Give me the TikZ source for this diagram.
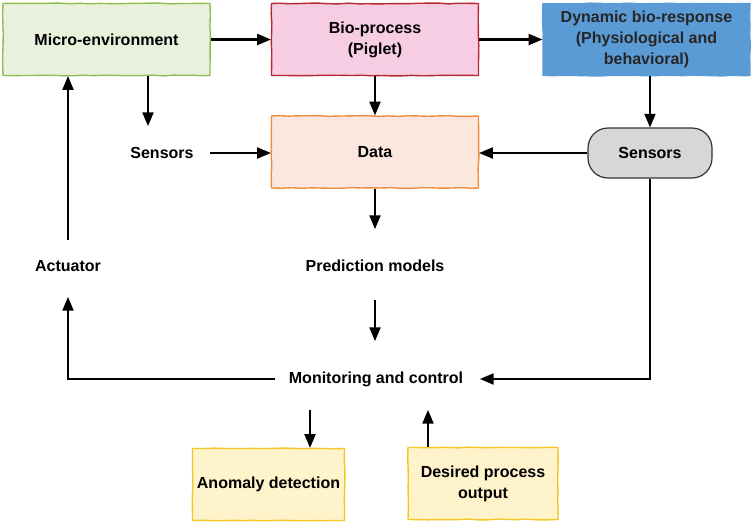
\documentclass[tikz,border=0pt]{standalone}
\usepackage{fontspec}
\setmainfont{Liberation Sans}
\usepackage{tikz}
\usetikzlibrary{shapes,arrows,positioning,calc,decorations.pathmorphing}
\definecolor{envgreen}{RGB}{141,191,82}
\definecolor{envfill}{RGB}{233,241,220}
\definecolor{bioline}{RGB}{181,40,48}
\definecolor{biofill}{RGB}{247,205,227}
\definecolor{dynblue}{RGB}{91,155,213}
\definecolor{dataline}{RGB}{236,140,60}
\definecolor{datafill}{RGB}{251,231,221}
\definecolor{sensfill}{RGB}{217,214,218}
\definecolor{outline}{RGB}{242,198,35}
\definecolor{outfill}{RGB}{255,243,204}

\begin{document}
\begin{tikzpicture}[x=1pt,y=-1pt,
    font=\fontsize{16}{21}\selectfont\bfseries,
    box/.style={line width=1.4pt, minimum width=207pt, minimum height=72pt,
                align=center, inner sep=2pt,
                decorate, decoration={random steps,segment length=10pt,amplitude=0.4pt}},
    outbox/.style={box, draw=outline, fill=outfill, minimum width=152pt},
    label/.style={inner sep=3pt},
    arr/.style={-triangle 45, line width=2.2pt}]
    \useasboundingbox (0,0) rectangle (752,523);

    % top row
    \node[box, draw=envgreen, fill=envfill] (micro) at (106.5,39.5) {Micro-environment};
    \node[box, draw=bioline, fill=biofill] (bio) at (375,39.5) {Bio-process\\(Piglet)};
    \node[box, draw=dynblue, fill=dynblue, text=black!85] (dyn) at (646.5,39.5)
        {Dynamic bio-response\\(Physiological and\\behavioral)};

    % data row
    \node[box, draw=dataline, fill=datafill] (data) at (375,152) {Data};
    \node[draw=black!80, fill=sensfill, line width=1.2pt, rounded corners=20pt,
          minimum width=124pt, minimum height=50pt] (sensR) at (650,153) {Sensors};
    \node[label] (sensL) at (162,153) {Sensors};

    % middle labels
    \node[label] (act) at (68,266) {Actuator};
    \node[label] (pred) at (375,266) {Prediction models};
    \node[label] (mon) at (376,379) {Monitoring and control};

    % outputs
    \node[outbox] (anom) at (268.5,484.5) {Anomaly detection};
    \node[outbox, minimum width=150pt] (want) at (483,483.5) {Desired process\\output};

    % free ends
    \coordinate (senstop) at (148,126);
    \coordinate (predtop) at (375,229);
    \coordinate (predbot) at (375,300);
    \coordinate (montop) at (375,341);
    \coordinate (actbot) at (68,297);
    \coordinate (acttop) at (68,240);
    \coordinate (montip) at (480,379);
    \coordinate (monleft) at (275,379);
    \coordinate (anomtop) at (310,410);
    \coordinate (wanttop) at (428,410);
    \coordinate (sensLend) at (210,153);

    % connectors
    \draw[arr] (micro.east) -- (micro.east -| bio.west);
    \draw[arr] (bio.east) -- (bio.east -| dyn.west);
    \draw[arr] (micro.south -| senstop) -- (senstop);
    \draw[arr] (bio.south) -- (data.north);
    \draw[arr] (dyn.south -| sensR) -- (sensR.north);
    \draw[arr] (sensLend) -- (sensLend -| data.west);
    \draw[arr] (sensR.west) -- (sensR.west -| data.east);
    \draw[arr] (data.south) -- (predtop);
    \draw[arr] (predbot) -- (montop);
    \draw[arr] (sensR.south) -- (sensR.south |- montip) -- (montip);
    \draw[arr] (monleft) -- (monleft -| actbot) -- (actbot);
    \draw[arr] (acttop) -- (acttop |- micro.south);
    \draw[arr] (anomtop) -- (anomtop |- anom.north);
    \draw[arr] (wanttop |- want.north) -- (wanttop);
\end{tikzpicture}
\end{document}
